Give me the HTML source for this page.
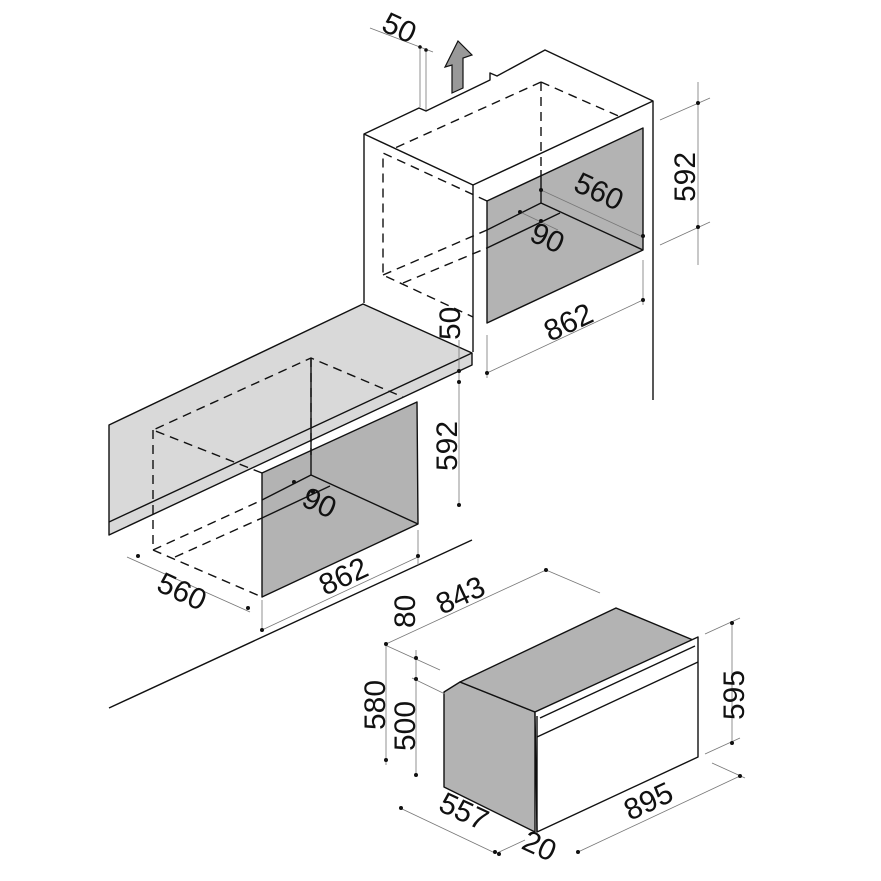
<!DOCTYPE html>
<html><head><style>body{margin:0;background:#fff}svg{display:block}text{font-family:"Liberation Sans",sans-serif;font-size:30px;fill:#111}</style></head><body>
<svg width="881" height="881" viewBox="0 0 881 881" xmlns="http://www.w3.org/2000/svg">
<g stroke="#111" stroke-width="1.4" fill="none" stroke-linejoin="round">
<polyline points="364,303 364,134 419,108 426,111 490,80 490,73 497,76 545,50 653,101 653,400"/>
<line x1="364" y1="134" x2="473" y2="185"/>
<line x1="473" y1="185" x2="653" y2="101"/>
<line x1="473" y1="185" x2="473" y2="352"/>
<polygon points="487,201 643,128 643,250 487,323" fill="#b3b3b3"/>
<line x1="541" y1="170" x2="541" y2="203"/>
<line x1="541" y1="203" x2="643" y2="250"/>
<line x1="487" y1="230" x2="541" y2="203"/>
<line x1="487" y1="248" x2="560" y2="213"/>
<g stroke-dasharray="9,6">
<line x1="541" y1="82" x2="541" y2="170"/>
<line x1="541" y1="82" x2="395" y2="148"/>
<line x1="541" y1="82" x2="623" y2="118"/>
<polyline points="487,201 383,153 383,275 473,317"/>
<line x1="383" y1="275" x2="487" y2="230"/>
<line x1="403" y1="283" x2="487" y2="248"/>
</g>
<polygon points="109,425 363,304 472,353 472,365 109,535" fill="#d9d9d9"/>
<line x1="109" y1="522" x2="472" y2="353"/>
<polygon points="262,473 417,402 418,524 262,597" fill="#b3b3b3"/>
<line x1="311" y1="358" x2="311" y2="475"/>
<line x1="311" y1="475" x2="418" y2="524"/>
<line x1="262" y1="500" x2="311" y2="475"/>
<line x1="262" y1="518" x2="330" y2="486"/>
<g stroke-dasharray="9,6">
<line x1="311" y1="358" x2="311" y2="455"/>
<polyline points="262,473 153,430 311,358 403,397"/>
<polyline points="153,430 153,550 262,597"/>
<line x1="153" y1="550" x2="262" y2="500"/>
<line x1="175" y1="557" x2="262" y2="518"/>
</g>
<line x1="109" y1="708" x2="472" y2="540"/>
<polygon points="444,692 460,682 535,712 535,832 444,787" fill="#b3b3b3"/>
<polygon points="460,682 616,608 693,640 535,712" fill="#b3b3b3"/>
<polygon points="535,712 698,637 698,757 537,832" fill="#fff"/>
<line x1="537" y1="716" x2="537" y2="832"/>
<line x1="537" y1="737" x2="698" y2="662"/>
<line x1="540" y1="718" x2="695" y2="646"/>
</g>
<polygon points="452,93 452,65 445,67 458,41 472,55 463,58 463,88" fill="#999" stroke="#111" stroke-width="1.2"/>
<g stroke="#777" stroke-width="0.8" fill="none">
<line x1="420" y1="45" x2="420" y2="107"/><line x1="426" y1="48" x2="426" y2="110"/><line x1="370" y1="28" x2="433" y2="52"/>
<line x1="698" y1="82" x2="698" y2="265"/><line x1="660" y1="120" x2="710" y2="98"/><line x1="660" y1="245" x2="710" y2="222"/>
<line x1="541" y1="190" x2="643" y2="237"/><line x1="520" y1="212" x2="558" y2="230"/>
<line x1="487" y1="335" x2="487" y2="378"/><line x1="643" y1="260" x2="643" y2="305"/><line x1="487" y1="373" x2="643" y2="300"/>
<line x1="459" y1="340" x2="459" y2="505"/>
<line x1="418" y1="530" x2="418" y2="565"/><line x1="262" y1="600" x2="262" y2="630"/><line x1="262" y1="630" x2="418" y2="557"/>
<line x1="127" y1="557" x2="250" y2="612"/>
<line x1="386" y1="645" x2="386" y2="765"/><line x1="416" y1="650" x2="416" y2="775"/>
<line x1="386" y1="644" x2="546" y2="570"/><line x1="546" y1="570" x2="600" y2="593"/>
<line x1="385" y1="645" x2="440" y2="670"/><line x1="412" y1="678" x2="445" y2="694"/>
<line x1="732" y1="622" x2="732" y2="745"/><line x1="705" y1="634" x2="740" y2="618"/><line x1="705" y1="754" x2="740" y2="738"/>
<line x1="578" y1="852" x2="740" y2="776"/><line x1="712" y1="763" x2="745" y2="778"/>
<line x1="400" y1="808" x2="495" y2="853"/><line x1="497" y1="853" x2="525" y2="840"/>
</g>
<g fill="#111">
<circle cx="420" cy="47" r="1.8"/><circle cx="426" cy="50" r="1.8"/>
<circle cx="698" cy="103" r="2"/><circle cx="698" cy="227" r="2"/>
<circle cx="541" cy="190" r="2"/><circle cx="643" cy="236" r="2"/><circle cx="520" cy="212" r="2"/><circle cx="541" cy="221" r="2"/>
<circle cx="487" cy="373" r="2"/><circle cx="643" cy="300" r="2"/>
<circle cx="459" cy="371" r="2"/><circle cx="459" cy="382" r="2"/><circle cx="459" cy="505" r="2"/>
<circle cx="418" cy="556" r="2"/><circle cx="262" cy="630" r="2"/>
<circle cx="138" cy="556" r="2"/><circle cx="248" cy="608" r="2"/>
<circle cx="294" cy="482" r="2"/><circle cx="313" cy="492" r="2"/>
<circle cx="546" cy="570" r="2"/><circle cx="386" cy="644" r="2"/><circle cx="416" cy="658" r="2"/><circle cx="416" cy="679" r="2"/>
<circle cx="386" cy="760" r="2"/><circle cx="416" cy="775" r="2"/>
<circle cx="732" cy="623" r="2"/><circle cx="732" cy="743" r="2"/>
<circle cx="740" cy="776" r="2"/><circle cx="578" cy="852" r="2"/>
<circle cx="401" cy="808" r="2"/><circle cx="495" cy="852" r="2"/><circle cx="499" cy="854" r="2"/>
</g>
<g>
<text transform="translate(380,30) rotate(25)">50</text>
<text transform="translate(695,202) rotate(-90)">592</text>
<text transform="translate(572,190) rotate(25)">560</text>
<text transform="translate(528,240) rotate(25)">90</text>
<text transform="translate(550,342) rotate(-25)">862</text>
<text transform="translate(460,340) rotate(-90)">50</text>
<text transform="translate(457,471) rotate(-90)">592</text>
<text transform="translate(300,505) rotate(25)">90</text>
<text transform="translate(155,590) rotate(25)">560</text>
<text transform="translate(325,596) rotate(-25)">862</text>
<text transform="translate(442,615) rotate(-25)">843</text>
<text transform="translate(415,628) rotate(-90)">80</text>
<text transform="translate(385,730) rotate(-90)">580</text>
<text transform="translate(415,751) rotate(-90)">500</text>
<text transform="translate(744,720) rotate(-90)">595</text>
<text transform="translate(630,821) rotate(-25)">895</text>
<text transform="translate(437,810) rotate(25)">557</text>
<text transform="translate(520,848) rotate(25)">20</text>
</g>
</svg>
</body></html>
